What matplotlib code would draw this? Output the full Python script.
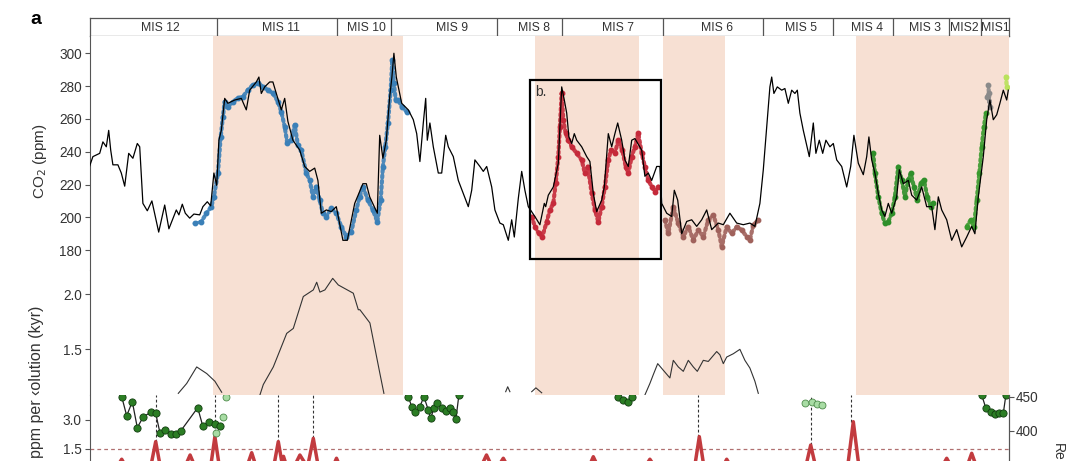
import numpy as np
import matplotlib
matplotlib.use("Agg")
import matplotlib.pyplot as plt
from matplotlib.patches import Rectangle

plt.rcParams['font.family'] = ['Liberation Sans', 'DejaVu Sans']

# ---------------- data (x = age in ka) ----------------
mis_bounds = [395.6, 335.6, 308.75, 255.6, 223.4, 172.9, 122.9, 87.9, 57.75, 29.6, 13.75]
mis_labels = ["MIS 12", "MIS 11", "MIS 10", "MIS 9", "MIS 8", "MIS 7", "MIS 6",
              "MIS 5", "MIS 4", "MIS 3", "MIS2", "MIS1"]
mis_centers = [423.9, 363.8, 320.8, 278.3, 237.4, 195.4, 145.8, 103.6, 70.8, 41.9, 21.9, 6.8]

shade_start = [397.75, 236.75, 172.9, 76.25]
shade_end = [302.6, 184.6, 141.75, 0.0]

co2_age = [459.5, 457.8, 454.4, 452.8, 451.1, 449.9, 448.9, 447.8, 445.3, 443.6, 441.9, 439.9,
           437.8, 435.6, 434.4, 432.8, 430.6, 428.3, 424.9, 421.9, 419.8, 416.1, 414.8, 413.1,
           411.6, 409.4, 407.3, 404.4, 402.8, 400.6, 398.9, 397.3, 395.9, 394.8, 393.6, 391.9,
           390.3, 386.9, 383.6, 381.1, 379.4, 376.1, 374.8, 373.6, 371.9, 369.4, 367.8, 366.1,
           363.6, 361.9, 360.3, 357.8, 354.4, 351.9, 349.4, 346.9, 345.3, 343.6, 341.1, 338.6,
           336.1, 332.8, 330.6, 326.9, 322.8, 321.1, 319.4, 315.6, 314.4, 312.8, 311.1, 309.4,
           308.3, 307.3, 306.1, 303.4, 300.1, 297.6, 295.9, 294.3, 292.6, 291.4, 290.6, 289.3,
           287.6, 285.1, 283.4, 281.4, 280.1, 277.6, 275.1, 272.6, 270.1, 268.4, 266.8, 264.3,
           262.6, 260.9, 258.4, 256.8, 254.3, 252.6, 250.1, 248.4, 247.1, 245.1, 243.4, 241.8,
           240.1, 236.8, 234.3, 232.1, 231.4, 230.1, 227.6, 225.1, 223.4, 222.1, 220.9, 219.8,
           218.4, 217.1, 215.9, 213.4, 210.9, 209.3, 207.6, 205.9, 203.4, 202.1, 200.1, 198.4,
           196.8, 195.4, 193.4, 191.8, 190.1, 188.4, 186.8, 183.4, 181.8, 180.1, 178.4, 175.9,
           174.3, 173.4, 170.9, 168.4, 167.1, 165.4, 163.4, 160.9, 158.4, 155.9, 153.4, 150.9,
           148.4, 145.1, 142.6, 139.3, 135.9, 132.6, 129.3, 126.8, 124.3, 122.6, 120.9, 119.3,
           118.4, 117.3, 115.6, 113.4, 111.8, 110.1, 108.4, 106.8, 105.6, 104.3, 102.6, 100.9,
           99.6, 97.6, 96.3, 94.6, 92.9, 91.3, 89.3, 87.6, 85.9, 83.4, 80.9, 78.9, 77.3, 75.1,
           72.6, 70.9, 69.8, 68.4, 66.8, 65.1, 63.4, 61.8, 60.1, 58.4, 55.9, 54.6, 52.6, 50.1,
           48.4, 45.9, 43.4, 40.9, 38.4, 36.8, 35.1, 33.4, 30.9, 28.4, 25.9, 23.4, 20.9, 18.4,
           16.8, 15.1, 12.6, 10.9, 9.3, 7.6, 5.9, 4.3, 2.6, 0.9, 0.1]
co2_ppm = [231, 237, 239, 246, 243, 253, 241, 232, 232, 227, 219, 239,
           236, 245, 243, 208.5, 204, 210, 191, 207.5, 193, 204.5, 201.5, 208,
           202.5, 199.5, 202, 201.5, 206.5, 209.5, 207, 227, 219.5, 247, 253, 272.5,
           269.5, 271.5, 272.5, 265.5, 277.5, 282.5, 285.5, 275.5, 279.5, 282.5, 282.5, 275.5,
           265.5, 272.5, 258.5, 247, 241, 231, 228, 230, 222.5, 202.5, 204.5, 203.5,
           206.5, 186, 186, 208.5, 220.5, 220.5, 212.5, 202.5, 250, 236, 247, 273.5,
           285.5, 300, 285.5, 269.5, 265.5, 259.5, 251, 234, 257.5, 272.5, 247, 257.5,
           243, 227, 227, 250, 243, 237, 222.5, 214.5, 206.5, 216.5, 235, 231,
           228, 231, 218.5, 204.5, 196.5, 195.5, 186, 198.5, 188, 211.5, 228, 216.5,
           206.5, 200.5, 195.5, 208.5, 206.5, 213.5, 218.5, 233, 279.5, 271.5, 263.5, 249,
           245, 251, 247, 243, 237, 234, 214.5, 203.5, 210.5, 218.5, 251, 243,
           251, 257.5, 247, 235, 231, 247, 248, 241, 225, 227, 222.5, 231,
           231, 208.5, 202.5, 200.5, 216.5, 210.5, 190, 197.5, 198.5, 194.5, 198.5, 204.5,
           192.5, 196.5, 195.5, 202.5, 196.5, 195.5, 196.5, 194.5, 208.5, 229, 255, 279.5,
           285.5, 275.5, 279.5, 277.5, 278.5, 269.5, 277.5, 275.5, 277.5, 263.5, 253, 244,
           237, 257.5, 239, 247, 239, 247, 243, 245, 235, 231, 218.5, 231, 250, 233,
           226, 237, 249, 235, 227, 214.5, 204.5, 200.5, 208.5, 202.5, 212.5, 229, 220.5, 222.5,
           213.5, 210.5, 218.5, 206.5, 206.5, 192.5, 212.5, 204.5, 198.5, 186, 192.5, 182, 188, 194.5,
           190, 212.5, 237, 259.5, 271.5, 259.5, 262.5, 269.5, 277.5, 271.5, 277.5]

blue_age = [406.9, 403.6, 401.1, 398.6, 397.3, 395.3, 393.9, 392.8, 391.9, 390.3, 387.8, 385.3,
            382.8, 380.3, 377.8, 375.3, 372.8, 370.3, 367.8, 365.3, 363.6, 361.9, 360.6, 358.6,
            356.9, 355.3, 353.6, 351.1, 349.4, 347.8, 346.1, 344.4, 342.8, 341.1, 338.6, 336.1,
            333.6, 331.1, 328.6, 326.1, 324.4, 322.8, 320.3, 317.8, 315.6, 313.9, 312.8, 311.6,
            310.3, 308.9, 308.1, 307.3, 306.4, 305.1, 303.4, 300.9]
blue_ppm = [196.3, 197.3, 202.4, 206.5, 212.6, 226.8, 249.1, 261.3, 270.5, 267.4, 270.5, 272.6,
            273.5, 277.6, 280.7, 281.7, 279.6, 277.6, 275.6, 270.5, 264.4, 255.2, 245.1, 247.1,
            256.3, 244.1, 241, 226.8, 222.7, 212.6, 218.7, 210.5, 202.4, 200.4, 205.5, 202.4,
            194.3, 188.2, 191.2, 204.5, 212.6, 218.7, 210.5, 204.5, 197.3, 210.5, 230.9, 243.1,
            257.3, 277.6, 295.9, 281.7, 271.5, 271.5, 267.4, 264.4]

red_dot_age = [238.4, 236.8, 234.8, 233.1, 230.9, 229.3, 227.6, 226.4, 225.1, 224.3, 223.4, 222.6,
               221.4, 220.1, 218.4, 215.9, 213.4, 211.8, 210.4, 208.4, 206.8, 205.1, 203.4, 201.8,
               200.1, 198.8, 196.8, 195.1, 193.1, 191.4, 190.1, 188.4, 186.8, 185.1, 183.4, 181.8,
               180.1, 178.4, 176.8, 175.1]
red_dot_ppm = [200.4, 194.3, 190.2, 188.2, 197.3, 204.5, 208.5, 220.7, 237, 255.2, 275.6, 259.3,
               251.2, 247.1, 243.1, 239, 234.9, 226.8, 230.9, 214.6, 204.5, 197.3, 206.5, 218.7,
               234.9, 241, 239, 247.1, 241, 230.9, 226.8, 237, 243.1, 251.2, 239, 230.9,
               222.7, 218.7, 215.6, 218.7]

brown_age = [171.8, 170.1, 167.6, 165.1, 162.6, 160.1, 157.6, 155.1, 152.6, 150.1, 147.6, 145.1,
             143.4, 140.9, 138.4, 135.9, 133.4, 130.9, 129.3, 127.6, 125.1]
brown_ppm = [198.4, 190.2, 206.5, 196.3, 188.2, 194.3, 186.2, 192.3, 188.2, 198.4, 201.4, 192.3,
             182.1, 194.3, 190.2, 194.3, 192.3, 188.2, 186.2, 195.3, 198.4]

green_age = [67.6, 66.8, 65.1, 63.4, 61.8, 60.1, 58.4, 56.8, 55.1, 53.4, 51.8, 50.1, 48.9, 47.3,
             45.6, 43.9, 42.3, 40.6, 38.9, 37.6]
green_ppm = [239, 226.8, 212.6, 202.4, 196.3, 197.3, 202.4, 212.6, 230.9, 222.7, 212.6, 222.7,
             226.8, 218.7, 210.5, 220.7, 222.7, 212.6, 206.5, 208.5]
green2_age = [20.9, 18.9, 17.3, 15.9, 14.6, 13.4, 12.3, 11.3]
green2_ppm = [194.3, 198.4, 194.3, 210.5, 226.8, 243.1, 255.2, 263.4]
gray_age = [10.6, 9.9, 9.3, 10.1]
gray_ppm = [273.5, 275.6, 267.4, 280.7]
lime_age = [1.3, 0.9]
lime_ppm = [285.7, 279.6]

# middle panel: resolution (kyr), gaps as nan
res_age = [415.1, 410.9, 405.9, 400.9, 396.8, 393.4, np.nan,
           374.3, 372.6, 367.6, 364.3, 360.9, 357.6, 352.6, 347.6, 345.9, 344.3, 341.8, 337.9,
           335.1, 327.6, 325.1, 324.3, 319.3, 314.3, 312.3, np.nan,
           251.4, 250.4, 249.3, np.nan, 238.4, 236.3, 233.4, np.nan,
           181.8, 179.3, 177.6, 175.4, 172.6, 169.3, 167.6, 165.1, 162.6, 160.1, 157.6, 155.6,
           152.6, 150.1, 145.9, 144.3, 142.6, 140.9, 137.6, 134.3, 131.8, 129.3, 126.8, 125.1]
res_kyr = [1.10, 1.19, 1.34, 1.28, 1.21, 1.11, np.nan,
           1.085, 1.18, 1.34, 1.49, 1.645, 1.69, 1.98, 2.04, 2.11, 2.02, 2.04, 2.145,
           2.085, 2.01, 1.86, 1.86, 1.74, 1.28, 1.10, np.nan,
           1.115, 1.16, 1.115, np.nan, 1.115, 1.15, 1.105, np.nan,
           1.085, 1.19, 1.27, 1.37, 1.31, 1.24, 1.40, 1.34, 1.30, 1.40, 1.34, 1.30,
           1.40, 1.39, 1.48, 1.45, 1.37, 1.43, 1.46, 1.50, 1.40, 1.33, 1.21, 1.10]

# bottom panel: dark green points with connecting line, light green points
gdot_age = [443.4, 440.9, 438.1, 435.6, 432.6, 428.9, 426.4, 424.3, 421.8, 418.9, 416.4, 413.8,
            405.4, 402.9, 399.8, 396.8, 394.3, np.nan,
            300.1, 298.4, 296.8, 294.3, 292.3, 290.1, 288.9, 287.3, 285.6, 283.4, 281.3, 279.3,
            277.6, 276.3, 274.8, np.nan,
            195.1, 192.6, 190.4, 188.4, np.nan,
            13.4, 11.3, 8.9, 6.8, 4.6, 2.6, 1.3]
gdot_val = [4.22, 3.22, 3.96, 2.60, 3.17, 3.40, 3.35, 2.34, 2.48, 2.27, 2.25, 2.44,
            3.64, 2.70, 2.88, 2.78, 2.70, np.nan,
            4.22, 3.70, 3.43, 3.70, 4.22, 3.52, 3.09, 3.61, 3.87, 3.61, 3.49, 3.61,
            3.43, 3.04, 4.31, np.nan,
            4.22, 4.05, 3.96, 4.22, np.nan,
            4.31, 3.61, 3.43, 3.30, 3.35, 3.35, 4.31]
glight_age = [396.3, 392.6, 391.3, 101.8, 98.4, 95.9, 93.4]
glight_val = [2.30, 3.17, 4.22, 3.87, 3.96, 3.84, 3.78]

red_age = [459, 446, 443.4, 441, 429, 426.4, 424, 412, 409.2, 406.5, 399, 396.8, 394.5,
           381, 378.4, 376, 367.5, 365.1, 363.5, 362.5, 361, 357, 354.3, 351.5, 350, 347.6, 345,
           338, 336, 334, 264, 261, 258, 255, 252.6, 250, 210, 207.6, 205, 182, 179.3, 176.5,
           157, 154.6, 152.2, 143, 140.9, 138.5, 101.5, 98.9, 96.3, 80.5, 77.6, 74.7,
           33.5, 30.9, 28.3, 21, 18.4, 15.8, 0]
red_val = [0.5, 0.5, 0.95, 0.5, 0.5, 1.87, 0.5, 0.5, 1.17, 0.5, 0.5, 2.13, 0.5,
           0.5, 1.29, 0.5, 0.5, 1.87, 0.9, 1.1, 0.6, 0.6, 1.17, 0.7, 0.8, 2.04, 0.5,
           0.5, 1.0, 0.5, 0.5, 1.17, 0.5, 0.6, 1.0, 0.5, 0.5, 1.08, 0.5, 0.5, 0.95, 0.5,
           0.5, 2.13, 0.5, 0.5, 0.95, 0.5, 0.5, 1.69, 0.5, 0.5, 2.91, 0.5,
           0.5, 1.0, 0.5, 0.5, 1.26, 0.5, 0.5]
vline_age = [426.4, 396.8, 365.1, 347.6, 155.4, 98.9, 78.7]
vline_low = [1.87, 2.13, 1.87, 2.04, 2.13, 1.69, 2.91]

box_b = (239.25, 173.75, 174.6, 283.7)  # age0, age1, ppm0, ppm1

# ---------------- figure ----------------
W, H = 1080, 461
fig = plt.figure(figsize=(W / 100, H / 100), dpi=100)
SHADE = "#f7e0d3"
SPINE = "#555555"
TXT = "#333333"
X0, X1 = 89.5, 1008.5
XLIM = (459.5, 0)
TICK_FS = 9.8


def px_axes(top, bottom):
    return fig.add_axes([X0 / W, 1 - bottom / H, (X1 - X0) / W, (bottom - top) / H])


def tick_style(ax):
    ax.tick_params(axis="y", direction="out", length=3.5, width=0.8, color=SPINE,
                   labelsize=TICK_FS, labelcolor=TXT, pad=2)


def base_style(ax):
    ax.set_xlim(*XLIM)
    ax.set_xticks([])
    for s in ["top", "right", "bottom"]:
        ax.spines[s].set_visible(False)
    ax.spines["left"].set_color(SPINE)
    ax.spines["left"].set_linewidth(0.8)
    tick_style(ax)
    for a0, a1 in zip(shade_start, shade_end):
        ax.axvspan(a1, a0, color=SHADE, lw=0, zorder=0)


# header with MIS stages
axh = px_axes(18.3, 35.7)
axh.set_xlim(*XLIM)
axh.set_ylim(0, 1)
axh.set_xticks([])
axh.set_yticks([])
for s in axh.spines.values():
    s.set_color(SPINE)
    s.set_linewidth(0.9)
axh.vlines(mis_bounds, 0, 1, color=SPINE, lw=0.9)
for lab, c in zip(mis_labels, mis_centers):
    axh.text(c, 0.45, lab, ha="center", va="center", fontsize=8.8, color=TXT, clip_on=True)

# CO2 panel
ax1 = px_axes(35.7, 270)
base_style(ax1)
ax1.set_ylim(167.9, 310.7)
ax1.set_yticks([180, 200, 220, 240, 260, 280, 300])
for a, p, col in [(blue_age, blue_ppm, "#3b80b8"), (red_dot_age, red_dot_ppm, "#c52a3a"),
                  (brown_age, brown_ppm, "#a0625c"), (green_age, green_ppm, "#2f8f2a"),
                  (green2_age, green2_ppm, "#3a9a2e"), (gray_age, gray_ppm, "#8a8a8a"),
                  (lime_age, lime_ppm, "#b9e25c")]:
    ax1.plot(a, p, color=col, lw=3.0, ls=(0, (0.5, 0.8)), dash_capstyle="round",
             alpha=0.9, zorder=2)
    ax1.plot(a, p, color=col, lw=0, marker="o", ms=3.2, zorder=2)
ax1.plot(co2_age, co2_ppm, color="black", lw=0.9, zorder=3)
ax1.add_patch(Rectangle((box_b[0], box_b[2]), box_b[1] - box_b[0], box_b[3] - box_b[2],
                        fill=False, ec="black", lw=1.6, zorder=4))
ax1.text(236.8, 276.4, "b.", fontsize=10, color=TXT, va="center", ha="left", zorder=4)

# resolution panel
ax2 = px_axes(270, 395)
base_style(ax2)
ax2.set_ylim(1.085, 2.221)
ax2.set_yticks([1.5, 2.0])
ax2.set_yticklabels(["1.5", "2.0"])
ax2.plot(res_age, res_kyr, color="#333333", lw=0.8, zorder=3)

# bottom panel (cut by the figure edge)
ax3 = px_axes(395, 520)
ax3.set_facecolor("white")
ax3.set_xlim(*XLIM)
ax3.set_xticks([])
ax3.set_ylim(-2.226, 4.306)
ax3.set_yticks([1.5, 3.0])
ax3.set_yticklabels(["1.5", "3.0"])
for s in ["top", "bottom"]:
    ax3.spines[s].set_visible(False)
for s in ["left", "right"]:
    ax3.spines[s].set_color(SPINE)
    ax3.spines[s].set_linewidth(0.8)
tick_style(ax3)
ax3.axhline(1.5, color="#b07070", lw=0.9, ls=(0, (3, 2.5)), zorder=1)
ax3.vlines(vline_age, vline_low, 4.306, color="#333333", lw=0.8, ls=(0, (2.5, 2)), zorder=1)
ax3.plot(red_age, red_val, color="#c23b3f", lw=2.5, solid_joinstyle="round", zorder=2)
ax3.plot(gdot_age, gdot_val, color="#222222", lw=0.9, zorder=3)
ax3.plot(glight_age, glight_val, lw=0, marker="o", ms=5, mfc="#a8dca4", mec="#4d8a4a",
         mew=0.6, zorder=4)
ax3.plot(gdot_age, gdot_val, lw=0, marker="o", ms=5.2, mfc="#2b7d24", mec="#123d10",
         mew=0.6, zorder=5)

ax4 = ax3.twinx()
ax4.set_ylim(268.7, 452.5)
ax4.set_yticks([400, 450])
tick_style(ax4)
for s in ["top", "bottom", "left"]:
    ax4.spines[s].set_visible(False)
ax4.spines["right"].set_color(SPINE)

# panel letter and axis labels
fig.text(30 / W, 1 - 19 / H, "a", fontsize=14, fontweight="bold", ha="left", va="center")
fig.text(40 / W, 1 - 161 / H, "CO$_2$ (ppm)", rotation=90, fontsize=11, color=TXT,
         ha="center", va="center")
fig.text(37 / W, 1 - 306 / H, "ppm per \u2039olution (kyr)", rotation=90, fontsize=11.5,
         color=TXT, ha="center", va="top")
fig.text(1058 / W, 1 - 443 / H, "Re", rotation=270, fontsize=10,
         color=TXT, ha="center", va="top")

fig.savefig("out.png", dpi=100)
